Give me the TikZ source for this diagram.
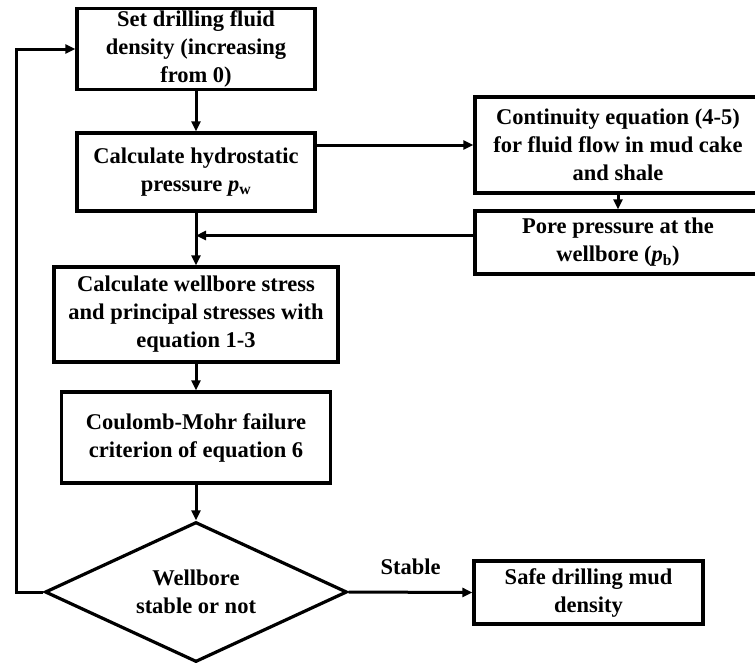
\documentclass[tikz,border=0pt]{standalone}
\usepackage{fontspec}
\setmainfont{Liberation Serif}
\usetikzlibrary{arrows.meta,positioning,calc,shapes.geometric}

\begin{document}
\begin{tikzpicture}[x=1pt,y=-1pt,>={Triangle[length=10pt,width=9pt]},
  box/.style={draw,line width=3.2pt,align=center,inner sep=2pt,
    font=\fontsize{22.5}{28}\selectfont\bfseries},
  decide/.style={draw,diamond,aspect=2.16,line width=3.2pt,align=center,
    inner sep=0pt,minimum width=302pt,minimum height=140pt,
    font=\fontsize{22.5}{28}\selectfont\bfseries},
  flow/.style={line width=3pt,->}]
  % Frame of the picture
  \useasboundingbox (0,0) rectangle (755,662);
  \clip (0,0) rectangle (755,662);

  % Main column
  \node[box,minimum width=238pt,minimum height=78pt] (set) at (196,49)
    {Set drilling fluid\\density (increasing\\from 0)};
  \node[box,minimum width=238pt,minimum height=78pt] (hydro) at (196,172)
    {Calculate hydrostatic\\pressure \textit{p}\textsubscript{w}};
  \node[box,minimum width=284pt,minimum height=95pt] (stress) at (196,314.5)
    {Calculate wellbore stress\\and principal stresses with\\equation 1-3};
  \node[box,minimum width=269pt,minimum height=91pt] (mohr) at (196,437.5)
    {Coulomb-Mohr failure\\criterion of equation 6};
  \node[decide] (stable) at (196,592) {Wellbore\\stable or not};

  % Right column
  \node[box,minimum width=286pt,minimum height=96pt] (cont) at (618,145)
    {Continuity equation (4-5)\\for fluid flow in mud cake\\and shale};
  \node[box,minimum width=286pt,minimum height=63pt] (pore) at (618,242.5)
    {Pore pressure at the\\wellbore (\textit{p}\textsubscript{b})};
  \node[box,minimum width=229pt,minimum height=63pt] (safe) at (588.5,592.5)
    {Safe drilling mud\\density};

  % Connectors
  \coordinate (porein) at ([yshift=7pt]pore.west);
  \coordinate (join) at (hydro.south |- porein);
  \draw[flow] (set) -- (hydro);
  \draw[flow] (cont.west -| hydro.east) -- (cont.west);
  \draw[flow] (cont) -- (pore);
  \draw[flow] (porein) -- (join);
  \draw[flow] (hydro) -- (stress);
  \draw[flow] (stress) -- (mohr);
  \draw[flow] (mohr) -- (stable);
  \draw[flow] (stable.east) -- (safe.west)
    node[pos=0.5,above=13pt,font=\fontsize{22.5}{28}\selectfont\bfseries] {Stable};
  \draw[flow] (stable.west) -- ++(-27,0) |- (set.west);
\end{tikzpicture}
\end{document}
